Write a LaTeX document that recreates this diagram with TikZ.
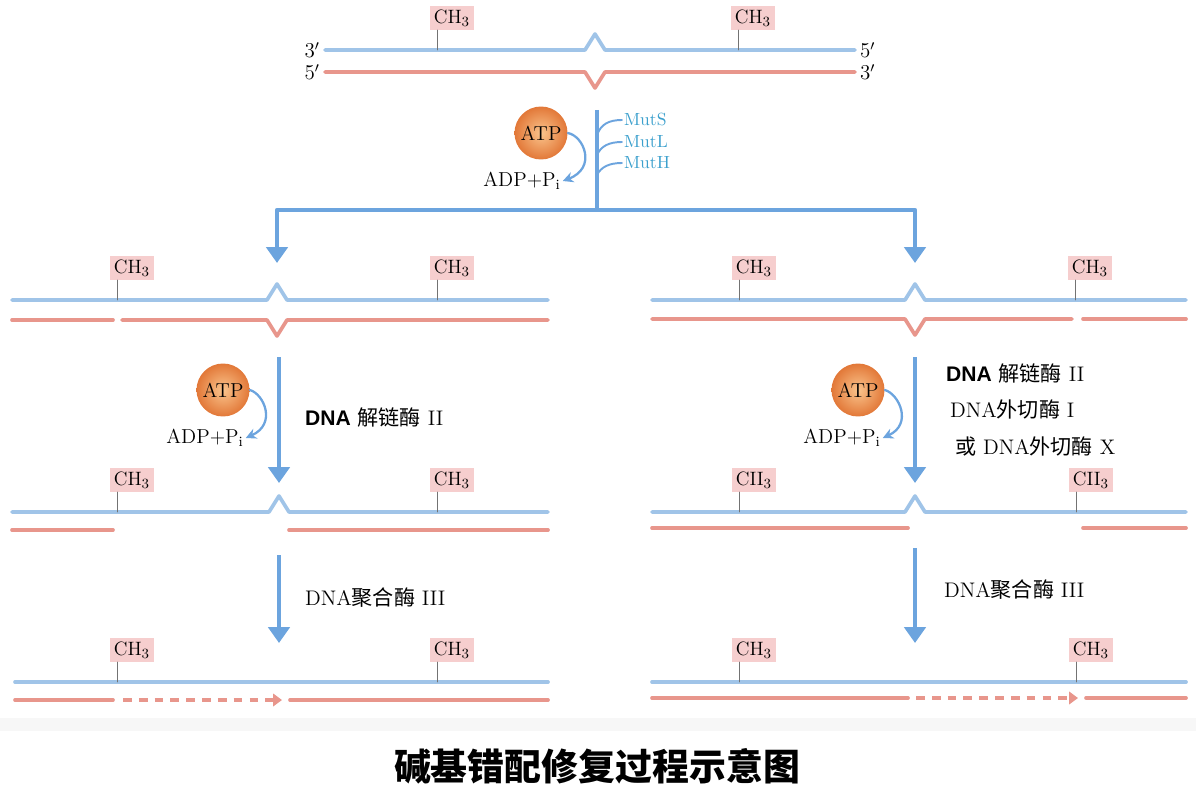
\documentclass[tikz,border=0pt]{standalone}
\usepackage{fontspec}
\newfontfamily\cjk{Noto Sans CJK SC}
\newfontfamily\helv{Liberation Sans}
\usetikzlibrary{arrows.meta,positioning,calc}

\definecolor{strandblue}{RGB}{160,196,232}
\definecolor{strandred}{RGB}{232,150,140}
\definecolor{arrowblue}{RGB}{108,164,222}
\definecolor{mutcyan}{RGB}{60,160,205}
\definecolor{methylpink}{RGB}{246,206,206}
\definecolor{atpin}{RGB}{250,196,140}
\definecolor{atpout}{RGB}{226,120,56}

\begin{document}
\begin{tikzpicture}[x=0.02cm, y=-0.02cm, line cap=round, line join=round,
  blue strand/.style={strandblue, line width=2.1pt},
  red strand/.style={strandred, line width=2.1pt},
  new strand/.style={strandred, line width=2.1pt, line cap=butt, dash pattern=on 5pt off 4pt, -{Triangle[width=7pt,length=5pt]}},
  methyl/.style={fill=methylpink, inner sep=2pt, font=\fontsize{11}{12}\selectfont},
  tick/.style={black!55, line width=0.5pt},
  endlabel/.style={font=\fontsize{12}{13}\selectfont, inner sep=1pt},
  flow/.style={arrowblue, line width=2.4pt, line cap=butt, -{Triangle[width=12pt,length=9pt]}},
  hook/.style={arrowblue, line width=1.3pt, -{Stealth[width=6pt,length=6pt]}},
  branch/.style={arrowblue, line width=1.1pt},
  mut/.style={mutcyan, font=\fontsize{10}{11}\selectfont, inner sep=1pt},
  atp/.style={circle, minimum size=1.06cm, inner sep=0pt, inner color=atpin, outer color=atpout, font=\fontsize{11.5}{13}\selectfont},
  adp/.style={font=\fontsize{11.5}{13}\selectfont, inner sep=1pt},
  enzyme/.style={font=\fontsize{12}{14}\selectfont, inner sep=1pt}]

\useasboundingbox (0,0) rectangle (1196,794);
\fill[black!3] (0,718) rectangle (1196,731);

% parent duplex
\draw[blue strand] (325,50) -- (585,50) -- (595,34) -- (605,50) -- (855,50);
\draw[red strand] (325,72) -- (585,72) -- (595,88) -- (605,72) -- (855,72);
\node[endlabel, anchor=east] (t3) at (322,50) {$3'$};
\node[endlabel, anchor=east] (t5) at (322,72) {$5'$};
\node[endlabel, anchor=west] (u5) at (858,50) {$5'$};
\node[endlabel, anchor=west] (u3) at (858,72) {$3'$};
\node[methyl, anchor=south west] (m1) at (430,30) {CH$_3$};
\draw[tick] (m1.south west) ++(7,0) -- ++(0,20);
\node[methyl, anchor=south west] (m2) at (731,30) {CH$_3$};
\draw[tick] (m2.south west) ++(7,0) -- ++(0,20);

% recognition
\coordinate (stemtop) at (597,110);
\coordinate (fork) at (597,210);
\coordinate (tipL) at (277,263);
\coordinate (tipR) at (915,263);
\draw[flow, -] (stemtop) -- (fork);
\draw[flow] (fork) -- (tipL |- fork) -- (tipL);
\draw[flow] (fork) -- (tipR |- fork) -- (tipR);
\node[mut, anchor=west] (muts) at (622,120) {MutS};
\node[mut, anchor=west] (mutl) at (622,142) {MutL};
\node[mut, anchor=west] (muth) at (622,163) {MutH};
\draw[branch] (597,135) .. controls (601,124) and (609,120) .. (muts.west);
\draw[branch] (597,155) .. controls (601,146) and (609,142) .. (mutl.west);
\draw[branch] (597,175) .. controls (601,167) and (609,163) .. (muth.west);
\node[atp] (atp0) at (541,133) {ATP};
\node[adp] (adp0) at (522,181) {ADP+P$_{\mathrm{i}}$};
\draw[hook] (atp0.east) .. controls (584,136) and (597,168) .. (adp0.east);

% left: nick in the new strand
\draw[blue strand] (12,300) -- (267,300) -- (277,284) -- (287,300) -- (548,300);
\draw[red strand] (12,320) -- (113,320);
\draw[red strand] (122,320) -- (267,320) -- (277,336) -- (287,320) -- (548,320);
\node[methyl, anchor=south west] (m3) at (110,280) {CH$_3$};
\draw[tick] (m3.south west) ++(7,0) -- ++(0,20);
\node[methyl, anchor=south west] (m4) at (430,280) {CH$_3$};
\draw[tick] (m4.south west) ++(7,0) -- ++(0,20);

% right: nick in the new strand
\draw[blue strand] (652,300) -- (905,300) -- (915,284) -- (925,300) -- (1186,300);
\draw[red strand] (652,319) -- (905,319) -- (915,335) -- (925,319) -- (1072,319);
\draw[red strand] (1083,319) -- (1186,319);
\node[methyl, anchor=south west] (m5) at (732,280) {CH$_3$};
\draw[tick] (m5.south west) ++(7,0) -- ++(0,20);
\node[methyl, anchor=south west] (m6) at (1068,280) {CH$_3$};
\draw[tick] (m6.south west) ++(7,0) -- ++(0,20);

% left: unwinding
\coordinate (l2top) at (279,357);
\coordinate (l2tip) at (279,483);
\draw[flow] (l2top) -- (l2tip);
\node[atp] (atp1) at (223,390) {ATP};
\node[adp] (adp1) at (205,438) {ADP+P$_{\mathrm{i}}$};
\draw[hook] (atp1.east) .. controls (264,394) and (277,424) .. (adp1.east);
\node[enzyme, anchor=west] (hel1) at (303,417) {{\helv\bfseries DNA} {\cjk 解链酶} II};

% right: unwinding and excision
\coordinate (r2top) at (915,357);
\coordinate (r2tip) at (915,483);
\draw[flow] (r2top) -- (r2tip);
\node[atp] (atp2) at (858,390) {ATP};
\node[adp] (adp2) at (842,438) {ADP+P$_{\mathrm{i}}$};
\draw[hook] (atp2.east) .. controls (899,394) and (913,424) .. (adp2.east);
\node[enzyme, anchor=west] (hel2) at (944,373) {{\helv\bfseries DNA} {\cjk 解链酶} II};
\node[enzyme, anchor=west] (exo1) at (948,409) {DNA{\cjk 外切酶} I};
\node[enzyme, anchor=west] (exo2) at (953,446) {{\cjk 或} DNA{\cjk 外切酶} X};

% left: gap
\draw[blue strand] (12,512) -- (269,512) -- (279,496) -- (289,512) -- (548,512);
\draw[red strand] (12,530) -- (113,530);
\draw[red strand] (289,530) -- (548,530);
\node[methyl, anchor=south west] (m7) at (110,492) {CH$_3$};
\draw[tick] (m7.south west) ++(7,0) -- ++(0,20);
\node[methyl, anchor=south west] (m8) at (430,492) {CH$_3$};
\draw[tick] (m8.south west) ++(7,0) -- ++(0,20);

% right: gap
\draw[blue strand] (652,512) -- (905,512) -- (915,496) -- (925,512) -- (1186,512);
\draw[red strand] (652,528) -- (908,528);
\draw[red strand] (1083,528) -- (1186,528);
\node[methyl, anchor=south west] (m9) at (732,492) {CII$_3$};
\draw[tick] (m9.south west) ++(7,0) -- ++(0,20);
\node[methyl, anchor=south west] (m10) at (1069,492) {CII$_3$};
\draw[tick] (m10.south west) ++(7,0) -- ++(0,20);

% resynthesis
\coordinate (l3top) at (279,555);
\coordinate (l3tip) at (279,643);
\draw[flow] (l3top) -- (l3tip);
\node[enzyme, anchor=west] (pol1) at (303,598) {DNA{\cjk 聚合酶} III};
\coordinate (r3top) at (915,548);
\coordinate (r3tip) at (915,643);
\draw[flow] (r3top) -- (r3tip);
\node[enzyme, anchor=west] (pol2) at (942,590) {DNA{\cjk 聚合酶} III};

% left: repaired
\draw[blue strand] (15,682) -- (548,682);
\draw[red strand] (15,700) -- (113,700);
\draw[new strand] (123,700) -- (282,700);
\draw[red strand] (290,700) -- (548,700);
\node[methyl, anchor=south west] (m11) at (110,662) {CH$_3$};
\draw[tick] (m11.south west) ++(7,0) -- ++(0,20);
\node[methyl, anchor=south west] (m12) at (430,662) {CH$_3$};
\draw[tick] (m12.south west) ++(7,0) -- ++(0,20);

% right: repaired
\draw[blue strand] (652,682) -- (1186,682);
\draw[red strand] (652,698) -- (908,698);
\draw[new strand] (916,698) -- (1078,698);
\draw[red strand] (1086,698) -- (1186,698);
\node[methyl, anchor=south west] (m13) at (732,662) {CH$_3$};
\draw[tick] (m13.south west) ++(7,0) -- ++(0,20);
\node[methyl, anchor=south west] (m14) at (1069,662) {CH$_3$};
\draw[tick] (m14.south west) ++(7,0) -- ++(0,20);

\node[font=\fontsize{21}{24}\selectfont] (title) at (597,766) {\cjk\bfseries 碱基错配修复过程示意图};

\end{tikzpicture}
\end{document}
